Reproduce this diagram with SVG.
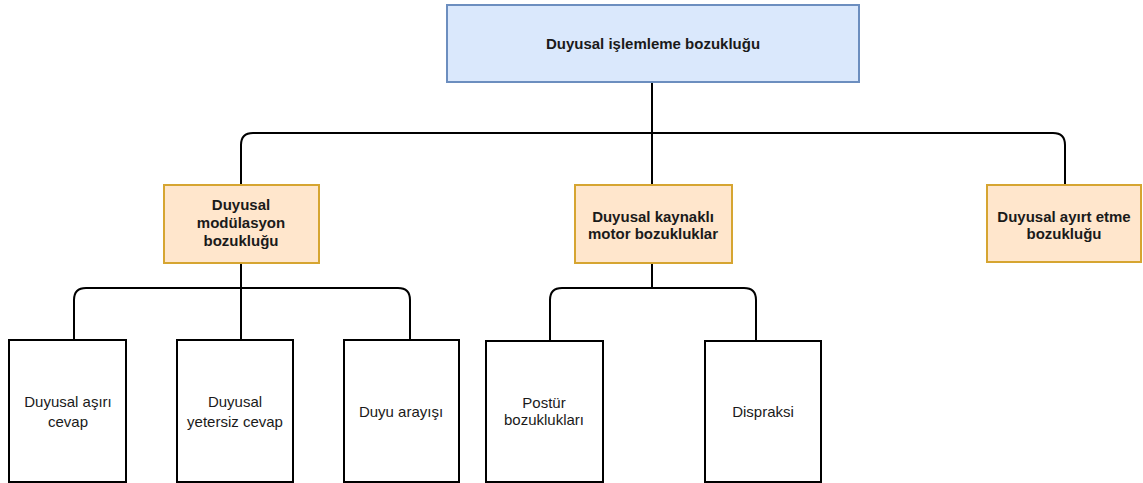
<svg xmlns="http://www.w3.org/2000/svg" width="1143" height="483" viewBox="0 0 1143 483">
<style>
text{font-family:"Liberation Sans",Arial,sans-serif;font-size:15px;fill:#1a1a1a;text-anchor:middle}
.b{font-weight:bold}
.blue{fill:#dae8fc;stroke:#6c8ebf;stroke-width:2}
.orange{fill:#ffe6cc;stroke:#d6a531;stroke-width:2}
.leaf{fill:#ffffff;stroke:#000000;stroke-width:2}
.c{fill:none;stroke:#000000;stroke-width:2}
</style>
<rect width="1143" height="483" fill="#ffffff"/>
<g id="connectors">
<path class="c" d="M652 82 V185"/>
<path class="c" d="M241 185 V145 Q241 133 253 133 H1053 Q1065 133 1065 145 V185"/>
<path class="c" d="M241 263 V340"/>
<path class="c" d="M74 340 V300 Q74 288 86 288 H398 Q410 288 410 300 V340"/>
<path class="c" d="M652 263 V288"/>
<path class="c" d="M550 341 V300 Q550 288 562 288 H744 Q756 288 756 300 V341"/>
</g>
<g id="root">
<rect class="blue" x="447" y="5" width="412" height="77"/>
<text class="b" x="653" y="49">Duyusal işlemleme bozukluğu</text>
</g>
<g id="mod">
<rect class="orange" x="164" y="185" width="155" height="78"/>
<text class="b" x="241" y="210">Duyusal</text>
<text class="b" x="241" y="228">modülasyon</text>
<text class="b" x="241" y="246">bozukluğu</text>
</g>
<g id="motor">
<rect class="orange" x="575" y="185" width="157" height="78"/>
<text class="b" x="653" y="222">Duyusal kaynaklı</text>
<text class="b" x="653" y="239">motor bozukluklar</text>
</g>
<g id="ayirt">
<rect class="orange" x="987" y="185" width="154" height="77"/>
<text class="b" x="1064" y="222">Duyusal ayırt etme</text>
<text class="b" x="1064" y="239">bozukluğu</text>
</g>
<g id="asiri">
<rect class="leaf" x="9" y="340" width="117" height="142"/>
<text x="68" y="407">Duyusal aşırı</text>
<text x="68" y="427">cevap</text>
</g>
<g id="yetersiz">
<rect class="leaf" x="177" y="340" width="116" height="142"/>
<text x="235" y="407">Duyusal</text>
<text x="235" y="427">yetersiz cevap</text>
</g>
<g id="arayis">
<rect class="leaf" x="344" y="340" width="115" height="142"/>
<text x="401" y="417">Duyu arayışı</text>
</g>
<g id="postur">
<rect class="leaf" x="486" y="341" width="117" height="141"/>
<text x="544" y="408">Postür</text>
<text x="544" y="425">bozuklukları</text>
</g>
<g id="dispraksi">
<rect class="leaf" x="705" y="341" width="116" height="141"/>
<text x="763" y="417">Dispraksi</text>
</g>
</svg>
